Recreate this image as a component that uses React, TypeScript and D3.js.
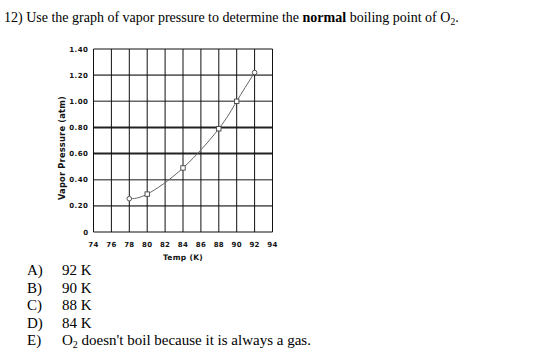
import React from "react";
import * as d3 from "d3";

const temps = [78, 80, 84, 88, 90, 92];
const pressures = [0.255, 0.29, 0.49, 0.79, 1.0, 1.22];
const markerShapes = ["circle", "square", "square", "square", "square", "circle"];
const xTicks = [74, 76, 78, 80, 82, 84, 86, 88, 90, 92, 94];
const yTicks = [0, 0.2, 0.4, 0.6, 0.8, 1.0, 1.2, 1.4];
const answerLetters = ["A)", "B)", "C)", "D)", "E)"];
const answerTexts = ["92 K", "90 K", "88 K", "84 K"];

const W = 560, H = 356;
const plot = { left: 93.5, right: 272.5, top: 49, bottom: 232 };

export default function App() {
  const x = d3.scaleLinear().domain([74, 94]).range([plot.left, plot.right]);
  const y = d3.scaleLinear().domain([0, 1.4]).range([plot.bottom, plot.top]);
  const pts: [number, number][] = temps.map((t, i) => [t, pressures[i]]);
  const line = d3.line<[number, number]>().x(d => x(d[0])).y(d => y(d[1])).curve(d3.curveNatural);
  const serif = "'Liberation Serif', 'Times New Roman', serif";
  const sans = "'DejaVu Sans', Verdana, sans-serif";
  const hStyle = (t: number) =>
    t === 0 || t === 1.4 ? { stroke: "#111", w: 1.1 } :
    t === 0.8 || t === 0.6 ? { stroke: "#222", w: 2 } : { stroke: "#666", w: 1.6 };
  return (
    <svg width={W} height={H} style={{ position: "absolute", left: 0, top: 0, background: "#fff" }}>
      <rect width={W} height={H} fill="#fff" />
      <text x={4} y={21.5} fontFamily={serif} fontSize={14} fill="#000">
        12) Use the graph of vapor pressure to determine the <tspan fontWeight="bold">normal</tspan> boiling point of O<tspan fontSize={9.5} dy={3}>2</tspan><tspan dy={-3}>.</tspan>
      </text>
      {/* grid */}
      {yTicks.map(t => (
        <line key={"hy" + t} x1={plot.left} x2={plot.right} y1={y(t)} y2={y(t)} stroke={hStyle(t).stroke}
          strokeWidth={hStyle(t).w} />
      ))}
      {xTicks.map(t => (
        <line key={"vx" + t} x1={x(t)} x2={x(t)} y1={plot.top} y2={plot.bottom} stroke="#111" strokeWidth={1} />
      ))}
      {yTicks.map(t => (
        <text key={"yl" + t} x={plot.left - 5} y={y(t) + 2.5} textAnchor="end" fontFamily={sans} fontWeight="bold" fontSize={7} letterSpacing={0.5} fill="#111">
          {t === 0 ? "0" : t.toFixed(2)}
        </text>
      ))}
      {xTicks.map(t => (
        <text key={"xl" + t} x={x(t)} y={246.5} textAnchor="middle" fontFamily={sans} fontWeight="bold" fontSize={7} letterSpacing={0.3} fill="#111">
          {t}
        </text>
      ))}
      <text x={183} y={259.5} textAnchor="middle" fontFamily={sans} fontWeight="bold" fontSize={7.5} letterSpacing={0.3} fill="#111">Temp (K)</text>
      <text transform={`translate(64.5,148) rotate(-90)`} textAnchor="middle" fontFamily={sans} fontWeight="bold" fontSize={8.3} letterSpacing={0.2} fill="#111">
        Vapor Pressure (atm)
      </text>
      <path d={line(pts) || ""} fill="none" stroke="#666" strokeWidth={1} />
      {pts.map((p, i) => markerShapes[i] === "circle" ? (
        <circle key={"m" + i} cx={x(p[0])} cy={y(p[1])} r={2.3} fill="#fff" stroke="#444" strokeWidth={0.9} />
      ) : (
        <rect key={"m" + i} x={x(p[0]) - 2.2} y={y(p[1]) - 2.2} width={4.4} height={4.4} fill="#fff" stroke="#444" strokeWidth={0.9} />
      ))}
      {answerLetters.map((l, i) => (
        <text key={"al" + i} x={27} y={275 + i * 17.5} fontFamily={serif} fontSize={15} fill="#000">{l}</text>
      ))}
      {answerTexts.map((a, i) => (
        <text key={"at" + i} x={62} y={275 + i * 17.5} fontFamily={serif} fontSize={15} fill="#000">{a}</text>
      ))}
      <text x={62} y={275 + 4 * 17.5} fontFamily={serif} fontSize={15} fill="#000">
        O<tspan fontSize={10} dy={3}>2</tspan><tspan dy={-3}> doesn't boil because it is always a gas.</tspan>
      </text>
    </svg>
  );
}
